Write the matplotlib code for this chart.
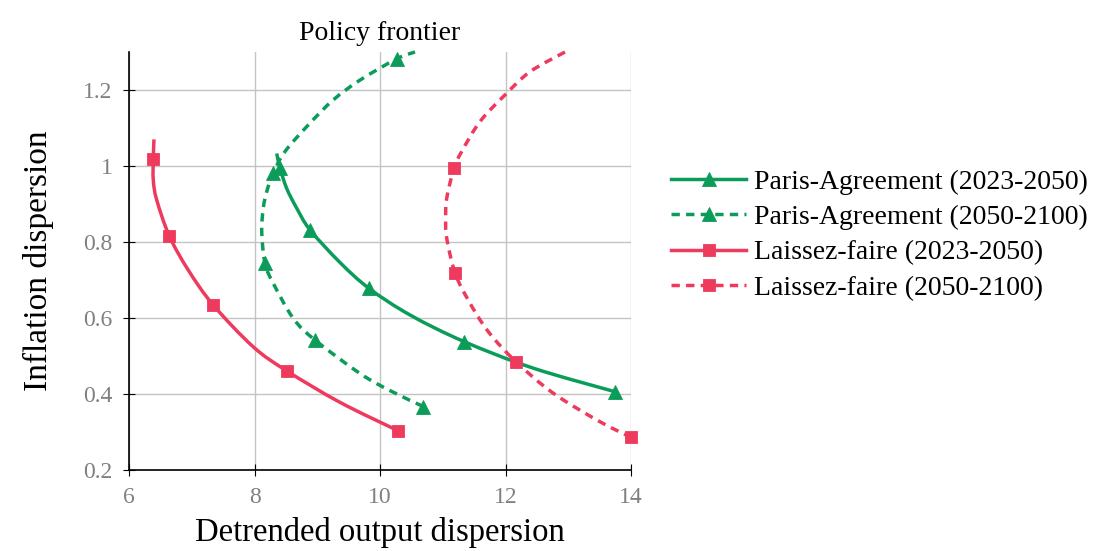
import matplotlib
matplotlib.use('Agg')
import numpy as np
import matplotlib.pyplot as plt
from matplotlib.path import Path
from matplotlib.patches import PathPatch
from matplotlib.lines import Line2D

# ---- data ----
pa1_x = [8.354, 8.406, 8.513, 8.673, 8.884, 9.363, 9.825, 10.478, 11.339, 12.443, 13.745]
pa1_y = [1.033, 0.995, 0.941, 0.889, 0.832, 0.746, 0.678, 0.608, 0.538, 0.468, 0.406]
pa1_marks = [1, 4, 6, 8, 10]

pa2_x = [10.690, 10.159, 9.681, 8.964, 8.618, 8.300, 8.167, 8.115, 8.140, 8.194,
         8.300, 8.486, 8.857, 9.256, 9.681, 10.266, 10.558]
pa2_y = [0.367, 0.409, 0.454, 0.542, 0.599, 0.691, 0.744, 0.827, 0.889, 0.932,
         0.982, 1.038, 1.108, 1.174, 1.226, 1.282, 1.300]
pa2_marks = [0, 3, 6, 10, 15]

lf1_x = [6.398, 6.387, 6.387, 6.441, 6.642, 6.945, 7.343, 7.981, 8.513, 9.363, 10.292]
lf1_y = [1.070, 1.018, 0.963, 0.911, 0.816, 0.726, 0.634, 0.524, 0.461, 0.378, 0.303]
lf1_marks = [1, 4, 6, 8, 10]

lf2_x = [12.948, 12.390, 11.992, 11.594, 11.302, 11.179, 11.063, 11.047, 11.063, 11.195,
         11.407, 11.726, 12.167, 12.762, 13.506, 14.000]
lf2_y = [1.300, 1.248, 1.187, 1.117, 1.038, 0.994, 0.915, 0.862, 0.810, 0.719,
         0.647, 0.564, 0.485, 0.402, 0.327, 0.286]
lf2_marks = [5, 9, 12, 15]

labels = ['Paris-Agreement (2023-2050)', 'Paris-Agreement (2050-2100)',
          'Laissez-faire (2023-2050)', 'Laissez-faire (2050-2100)']
x_ticks = [6, 8, 10, 12, 14]
y_ticks = [0.2, 0.4, 0.6, 0.8, 1.0, 1.2]
y_ticklabels = ['0.2', '0.4', '0.6', '0.8', '1', '1.2']

GREEN = '#0c9c5a'
RED = '#ee3a5c'
FONT = 'Liberation Serif'
plt.rcParams['font.family'] = FONT


def smooth_path(xs, ys):
    """Smooth (Catmull-Rom style) drawing path through the given data points."""
    pts = np.column_stack([xs, ys]).astype(float)
    n = len(pts)
    verts = [pts[0]]
    codes = [Path.MOVETO]
    for i in range(n - 1):
        p0 = pts[i - 1] if i > 0 else pts[i]
        p1 = pts[i]
        p2 = pts[i + 1]
        p3 = pts[i + 2] if i + 2 < n else pts[i + 1]
        verts += [p1 + (p2 - p0) / 6.0, p2 - (p3 - p1) / 6.0, p2]
        codes += [Path.CURVE4] * 3
    return Path(np.array(verts), codes)


fig = plt.figure(figsize=(10.93, 5.51), dpi=100)
ax = fig.add_axes([129 / 1093, 81 / 551, 502 / 1093, 418 / 551])

LW = 2.5
dash = (0, (2.4, 1.8))
series = [
    (pa1_x, pa1_y, pa1_marks, GREEN, '-', '^', 10.0),
    (pa2_x, pa2_y, pa2_marks, GREEN, dash, '^', 10.0),
    (lf1_x, lf1_y, lf1_marks, RED, '-', 's', 8.6),
    (lf2_x, lf2_y, lf2_marks, RED, dash, 's', 8.6),
]
handles = []
for k, (xs, ys, marks, col, ls, mk, ms) in enumerate(series):
    z = 2 + 0.2 * k
    ax.add_patch(PathPatch(smooth_path(xs, ys), fill=False, edgecolor=col,
                           lw=LW, linestyle=ls, clip_on=False, zorder=z,
                           capstyle='butt', joinstyle='round'))
    ax.plot([xs[i] for i in marks], [ys[i] for i in marks], ls='none',
            marker=mk, ms=ms, color=col, mew=0.6, clip_on=False, zorder=z + 0.1)
    handles.append(Line2D([], [], color=col, ls=ls, lw=LW, marker=mk, ms=ms, mew=0.6))

ax.set_xlim(6, 14)
ax.set_ylim(0.2, 1.3)
ax.set_xticks(x_ticks)
ax.set_yticks(y_ticks)
ax.set_yticklabels(y_ticklabels)
ax.grid(True, color='#c4c4c4', lw=1.0)
ax.set_axisbelow(True)
for s in ['top', 'right']:
    ax.spines[s].set_visible(False)
for s in ['left', 'bottom']:
    ax.spines[s].set_color('black')
    ax.spines[s].set_linewidth(1.2)
ax.tick_params(direction='inout', length=8, width=0.8, color='black',
               labelcolor='#808080', labelsize=17)
ax.tick_params(axis='x', pad=8)
ax.tick_params(axis='y', pad=8)

ax.set_title('Policy frontier', fontsize=20, pad=9)
ax.set_xlabel('Detrended output dispersion', fontsize=23.5, labelpad=7)
ax.set_ylabel('Inflation dispersion', fontsize=24, labelpad=21)

ax.legend(handles, labels, loc='center left',
          bbox_to_anchor=(671 / 1093, 1 - 235 / 551),
          bbox_transform=fig.transFigure, frameon=False, fontsize=20,
          handlelength=2.7, handletextpad=0.3, labelspacing=0.36,
          borderpad=0, borderaxespad=0)

fig.savefig('out.png', dpi=100)
